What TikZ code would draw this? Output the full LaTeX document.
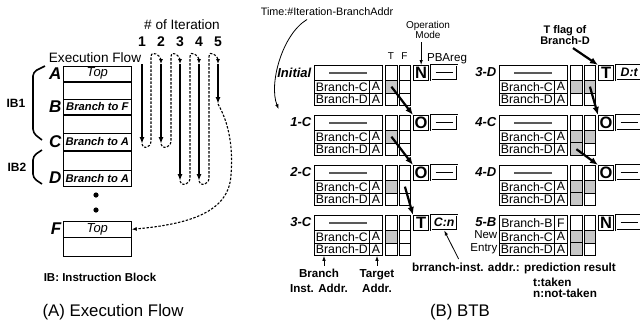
\documentclass[tikz,border=0pt]{standalone}
\usepackage{fontspec}
\setmainfont{Liberation Sans}
\usetikzlibrary{arrows.meta}

\newcommand{\fsz}[2]{\fontsize{#1}{#2}\selectfont}
\newcommand{\noreg}{\rule{17pt}{0.7pt}}
% one BTB entry: name, top left, label, first row (empty = unused), its target,
% operation mode, PBAreg, shaded T/F cells
\newcommand{\btbentry}[8]{%
        \begin{scope}[shift={#2}]
        \node[entrylbl] (#1-lbl) at (-2,7.5) {#3};
        \if\relax\detokenize{#4}\relax
        \node[cell, minimum width=68pt, minimum height=15pt] (#1-top) at (0,0) {\color{black!65}\rule{38pt}{1.2pt}};
        \else
        \node[cell, minimum width=55pt, minimum height=15pt] (#1-top) at (0,0) {#4};
        \node[cell, minimum width=13pt, minimum height=15pt] (#1-topt) at (55,0) {#5};
        \fi
        \node[cell, minimum width=55pt, minimum height=12.5pt] (#1-bc) at (0,15) {Branch-C};
        \node[cell, minimum width=13pt, minimum height=12.5pt] (#1-bct) at (55,15) {A};
        \node[cell, minimum width=55pt, minimum height=12.5pt] (#1-bd) at (0,27.5) {Branch-D};
        \node[cell, minimum width=13pt, minimum height=12.5pt] (#1-bdt) at (55,27.5) {A};
        \node[cell, minimum width=12pt, minimum height=15pt] (#1-t1) at (71,0) {};
        \node[cell, minimum width=12pt, minimum height=12.5pt] (#1-t2) at (71,15) {};
        \node[cell, minimum width=12pt, minimum height=12.5pt] (#1-t3) at (71,27.5) {};
        \node[cell, minimum width=11pt, minimum height=15pt] (#1-f1) at (85,0) {};
        \node[cell, minimum width=11pt, minimum height=12.5pt] (#1-f2) at (85,15) {};
        \node[cell, minimum width=11pt, minimum height=12.5pt] (#1-f3) at (85,27.5) {};
        \foreach \cl in {#8} {\filldraw[hitcell] (#1-\cl.north west) rectangle (#1-\cl.south east);}
        \node[modebox, minimum width=15pt, minimum height=15pt] (#1-m) at (99,0) {#6};
        \node[regbox, minimum width=26pt, minimum height=15pt] (#1-p) at (117,0) {#7};
        \end{scope}}

\begin{document}
\begin{tikzpicture}[x=1pt, y=-1pt,
        cell/.style={draw, line width=0.8pt, inner sep=0pt, anchor=north west, font=\fsz{12.3}{12}},
        hitcell/.style={draw, line width=0.8pt, fill=black!22},
        modebox/.style={cell, line width=1.3pt, font=\fsz{16.5}{16}\bfseries},
        regbox/.style={cell, line width=0.45pt, double, double distance=0.7pt},
        entrylbl/.style={anchor=east, inner sep=0.5pt, font=\fsz{13}{13}\bfseries\itshape},
        slot/.style={draw, line width=0.7pt, inner sep=0pt, anchor=north west, minimum width=68pt},
        blocklbl/.style={anchor=east, inner sep=0.5pt, font=\fsz{17}{17}\bfseries\itshape},
        num/.style={font=\fsz{14}{14}\bfseries},
        ibbracket/.style={line width=1.6pt, rounded corners=4pt},
        flowarrow/.style={line width=1.5pt, -{Latex[length=7pt,width=5pt]}},
        backarrow/.style={line width=1.1pt, dash pattern=on 2.4pt off 1.6pt, -{Latex[length=5pt,width=4pt]}},
        bigarrow/.style={line width=2.2pt, -{Latex[length=8pt,width=6.5pt]}},
        thinarrow/.style={line width=0.8pt, -{Latex[length=5pt,width=3.5pt]}}]
        \useasboundingbox (0,0) rectangle (640,325);

        % (A) execution flow
        \node[font=\fsz{13.6}{14}] (flow) at (95,58) {Execution Flow};
        \node[font=\fsz{13.6}{14}] (iter) at (182,25) {\# of Iteration};
        \node[num] (n1) at (142,42) {1};
        \node[num] (n2) at (161,42) {2};
        \node[num] (n3) at (180,42) {3};
        \node[num] (n4) at (199,42) {4};
        \node[num] (n5) at (218,42) {5};

        \node[slot, minimum height=15pt, font=\fsz{13}{13}\itshape] (rA) at (63,66) {Top};
        \node[slot, minimum height=18pt] (r1) at (63,81) {};
        \node[slot, minimum height=15pt, font=\fsz{11.2}{12}\bfseries\itshape] (rB) at (63,99) {Branch to F};
        \node[slot, minimum height=19pt] (r2) at (63,114) {};
        \node[slot, minimum height=17pt, font=\fsz{11.2}{12}\bfseries\itshape] (rC) at (63,133) {Branch to A};
        \node[slot, minimum height=20pt] (r3) at (63,150) {};
        \node[slot, minimum height=16pt, font=\fsz{11.2}{12}\bfseries\itshape] (rD) at (63,170) {Branch to A};
        \draw[line width=1.6pt] (rA.south west) -- (rA.south east);
        \draw[line width=1.6pt] (rB.south west) -- (rB.south east);
        \draw[line width=1.6pt] (rC.south west) -- (rC.south east);
        \fill (96,195) circle (2.6pt);
        \fill (96,210) circle (2.6pt);
        \node[slot, minimum height=16pt, font=\fsz{13}{13}\itshape] (fTop) at (63,221) {Top};
        \node[slot, minimum height=19pt] (fRow) at (63,237) {};

        \node[blocklbl] (lA) at (62,74) {A};
        \node[blocklbl] (lB) at (62,106.5) {B};
        \node[blocklbl] (lC) at (62,141.5) {C};
        \node[blocklbl] (lD) at (62,178) {D};
        \node[blocklbl] (lF) at (62,229) {F};

        \draw[ibbracket] (45,66) -- (33,72) -- (33,133) -- (42,140);
        \draw[ibbracket] (42,150) -- (33,156) -- (33,178) -- (42,184);
        \node[font=\fsz{12}{12}\bfseries] (ib1) at (16,103) {IB1};
        \node[font=\fsz{12}{12}\bfseries] (ib2) at (17,167) {IB2};

        \coordinate (run1) at (142,64); \coordinate (stop1) at (142,144);
        \coordinate (run2) at (161,64); \coordinate (stop2) at (161,144);
        \coordinate (run3) at (180,64); \coordinate (stop3) at (180,181);
        \coordinate (run4) at (199,64); \coordinate (stop4) at (199,181);
        \coordinate (run5) at (218,64); \coordinate (stop5) at (218,104);
        \draw[flowarrow] (run1) -- (stop1);
        \draw[flowarrow] (run2) -- (stop2);
        \draw[flowarrow] (run3) -- (stop3);
        \draw[flowarrow] (run4) -- (stop4);
        \draw[flowarrow] (run5) -- (stop5);

        % back to the top for the next iteration
        \coordinate (lpb1) at (151,141); \coordinate (lpt1) at (151,57);
        \coordinate (lpb2) at (171,141); \coordinate (lpt2) at (171,57);
        \coordinate (lpb3) at (190,178); \coordinate (lpt3) at (190,57);
        \coordinate (lpb4) at (209,178); \coordinate (lpt4) at (209,57);
        \draw[backarrow] (stop1) .. controls +(0,6) and +(0,7) .. (lpb1) -- (lpt1) .. controls +(0,-8) and +(0,-8) .. (run2);
        \draw[backarrow] (stop2) .. controls +(0,6) and +(0,7) .. (lpb2) -- (lpt2) .. controls +(0,-8) and +(0,-8) .. (run3);
        \draw[backarrow] (stop3) .. controls +(0,6) and +(0,7) .. (lpb3) -- (lpt3) .. controls +(0,-8) and +(0,-8) .. (run4);
        \draw[backarrow] (stop4) .. controls +(0,6) and +(0,7) .. (lpb4) -- (lpt4) .. controls +(0,-8) and +(0,-8) .. (run5);
        \draw[backarrow] (stop5) .. controls (230,125) and (233,150) .. (231,175) .. controls (229,212) and (190,224) .. (fTop.east);

        \node[font=\fsz{11.5}{12}\bfseries] (iblegend) at (100,277) {IB: Instruction Block};
        \node[font=\fsz{16.8}{17}] (capA) at (113,312) {(A) Execution Flow};

        % (B) BTB
        \node[font=\fsz{10.8}{11}] (time) at (327,12) {Time:\#Iteration-BranchAddr};
        \node[align=center, font=\fsz{10}{10}] (opmode) at (428,30) {Operation\\Mode};
        \node[font=\fsz{11.6}{12}] (pbalbl) at (447,59) {PBAreg};
        \node[font=\fsz{10}{10}] (lblT) at (391,56) {T};
        \node[font=\fsz{10}{10}] (lblF) at (404.5,56) {F};

        \btbentry{init}{(314,65)}{Initial}{}{}{N}{\noreg}{t2}
        \btbentry{c1}{(314,115)}{1-C}{}{}{O}{\noreg}{t2}
        \btbentry{c2}{(314,165)}{2-C}{}{}{O}{\noreg}{t2}
        \btbentry{c3}{(314,215)}{3-C}{}{}{T}{\bfseries\itshape C:n}{t2}
        \btbentry{d3}{(499,65)}{3-D}{}{}{T}{\bfseries\itshape D:t}{t2,f2}
        \btbentry{c4}{(499,115)}{4-C}{}{}{O}{\noreg}{t2,f2,t3}
        \btbentry{d4}{(499,165)}{4-D}{}{}{O}{\noreg}{t2,f2,t3}
        \btbentry{b5}{(499,215)}{5-B}{Branch-B}{F}{N}{\noreg}{t2,f2,t3}

        \draw[thinarrow] (opmode.south -| init-m.north) -- (init-m.north);
        \draw[thinarrow] ([xshift=-20pt]time.south) .. controls +(-25,15) and +(-10,-25) .. ([xshift=-11pt,yshift=8pt]c1-lbl.north west);

        \draw[bigarrow] (init-t2.center) -- (c1-m.north west);
        \draw[bigarrow] (c1-t2.center) -- (c2-m.north west);
        \draw[bigarrow] (c2-f2.center) -- (c3-m.north west);
        \draw[bigarrow] (d3-f2.center) -- (c4-m.north west);
        \draw[bigarrow] (c4-t3.center) -- (d4-m.north west);
        \node[font=\fsz{11}{11}\bfseries, align=center] (tflag) at (565,35) {T flag of\\Branch-D};
        \draw[bigarrow] ([xshift=8pt]tflag.south) -- (d3-m.north west);

        \node[font=\fsz{11.5}{12.5}, align=right, anchor=east, inner sep=0.5pt] (newentry) at (498,242) {New\\Entry};

        \node[font=\fsz{11.6}{15}\bfseries, align=center] (binst) at (319,281) {Branch\\Inst. Addr.};
        \node[font=\fsz{11.6}{15}\bfseries, align=center] (taddr) at (377,281) {Target\\Addr.};
        \draw[thinarrow] ([xshift=5pt]binst.north) -- ([xshift=5pt]binst.north |- c3-bd.south);
        \draw[thinarrow] (taddr.north) -- (taddr.north |- c3-bdt.south);

        \node[font=\fsz{11.7}{12}\bfseries] (pred) at (514,268) {brranch-inst. addr.: prediction result};
        \draw[thinarrow] ([xshift=50pt]pred.north west) -- (c3-p.south);
        \node[font=\fsz{11.7}{10.5}\bfseries, align=left, anchor=north west, inner sep=0pt] (legend) at (533,278) {t:taken\\n:not-taken};

        \node[font=\fsz{16.8}{17}] (capB) at (460,312) {(B) BTB};
\end{tikzpicture}
\end{document}
